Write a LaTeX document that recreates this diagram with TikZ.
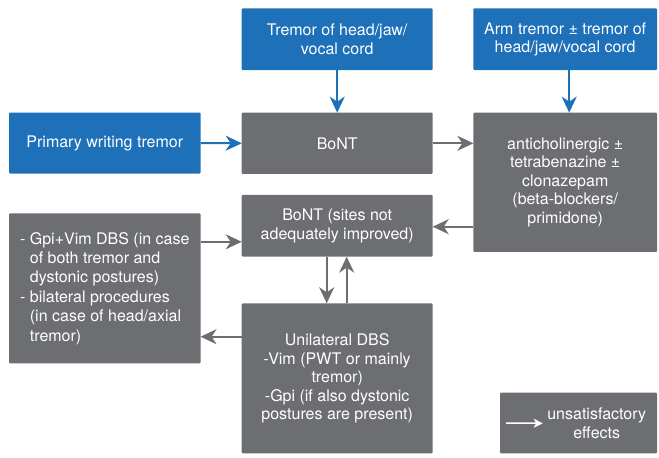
\documentclass[tikz,border=0pt]{standalone}
\usepackage{fontspec}
\setmainfont{TeX Gyre Heros}
\usepackage{xcolor}
\usepackage{tikz}
\usetikzlibrary{arrows.meta}

\definecolor{boxblue}{RGB}{30,112,185}
\definecolor{boxgray}{RGB}{109,110,113}

\tikzset{
  bluebox/.style={fill=boxblue, text=white, rounded corners=1pt, inner sep=0pt, outer sep=0pt,
    align=center, font=\fontsize{16}{18.5}\selectfont},
  graybox/.style={bluebox, fill=boxgray},
  bluearrow/.style={line width=2pt, boxblue, -{Stealth[length=16pt,width=15pt,inset=5pt]}},
  grayarrow/.style={bluearrow, boxgray},
}

\begin{document}
\begin{tikzpicture}[x=1pt,y=-1pt]
\useasboundingbox (0,0) rectangle (659,458);

\coordinate (H) at (337.2,39.2);
\coordinate (A) at (565.2,39.2);
\coordinate (W) at (104.8,143);
\coordinate (B) at (337.2,143.3);
\coordinate (D) at (565.2,182.3);
\coordinate (S) at (337.2,225.8);
\coordinate (G) at (104.8,288.3);
\coordinate (U) at (337.2,378.3);
\coordinate (L) at (578.5,423);

\node[bluebox, minimum width=191pt, minimum height=61.7pt] (head) at (H) {Tremor of head/jaw/\\vocal cord};
\node[bluebox, minimum width=183.7pt, minimum height=61.7pt] (arm) at (A) {Arm tremor ± tremor of\\head/jaw/vocal cord};
\node[bluebox, minimum width=191.5pt, minimum height=61pt] (writing) at (W) {Primary writing tremor};
\node[graybox, minimum width=191pt, minimum height=61.3pt] (bont) at (B) {BoNT};
\node[graybox, minimum width=183.7pt, minimum height=139.3pt] (drugs) at (D) {anticholinergic ±\\tetrabenazine ±\\clonazepam\\(beta-blockers/\\primidone)};
\node[graybox, minimum width=191pt, minimum height=61.7pt] (sites) at (S) {BoNT (sites not\\adequately improved)};
\node[graybox, minimum width=191.5pt, minimum height=150pt, align=left, font=\fontsize{16}{19.4}\selectfont] (gpivim) at (G) {- Gpi+Vim DBS (in case\\\phantom{- }of both tremor and\\\phantom{- }dystonic postures)\\- bilateral procedures\\\phantom{- }(in case of head/axial\\\phantom{- }tremor)};
\node[graybox, minimum width=191pt, minimum height=150pt] (unidbs) at (U) {Unilateral DBS\\-Vim (PWT or mainly\\tremor)\\-Gpi (if also dystonic\\postures are present)};
\node[graybox, minimum width=157pt, minimum height=60.6pt] (legend) at (L) {};
\node[text=white, align=center, font=\fontsize{16}{18.5}\selectfont] (legtext) at (596.7,423.3) {unsatisfactory\\effects};
\coordinate (legtip) at (542.7,423.3);

\draw[bluearrow] (head.south) -- (bont.north);
\draw[bluearrow] ([xshift=4pt]arm.south) -- ([xshift=4pt]drugs.north);
\draw[bluearrow] (writing.east) -- (bont.west);
\draw[grayarrow] (bont.east) -- (bont.east -| drugs.west);
\draw[grayarrow] ([yshift=-0.9pt]drugs.west |- sites.east) -- ([yshift=-0.9pt]sites.east);
\draw[grayarrow] ([yshift=-16pt]gpivim.east |- sites.west) -- ([yshift=-16pt]sites.west);
\draw[grayarrow] ([yshift=-33.4pt]unidbs.north west) -- ([yshift=-33.4pt]unidbs.north west -| gpivim.east);
\draw[grayarrow] ([xshift=-10.5pt]sites.south) -- ([xshift=-10.5pt]unidbs.north);
\draw[grayarrow] ([xshift=9.5pt]unidbs.north) -- ([xshift=9.5pt]sites.south);
\draw[white, line width=1.5pt, -{Stealth[length=9pt,width=9pt,inset=2.5pt]}] ([xshift=6pt]legend.west) -- (legtip);
\end{tikzpicture}
\end{document}
